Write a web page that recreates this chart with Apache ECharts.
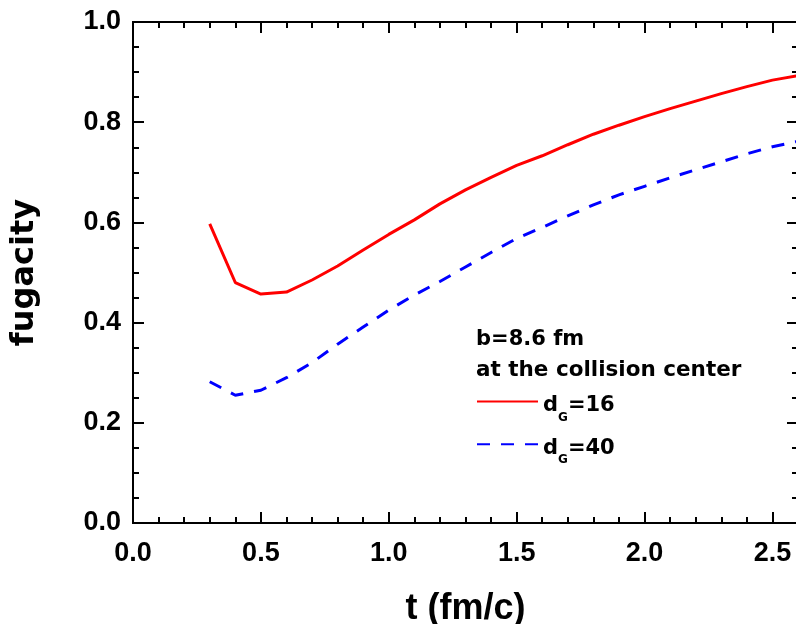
<!DOCTYPE html>
<html><head><meta charset="utf-8">
<script src="https://cdn.jsdelivr.net/npm/echarts@6/dist/echarts.min.js"></script>
<style>html,body{margin:0;padding:0;background:#fff}#c{width:796px;height:624px}</style>
</head><body><div id="c"></div>
<script>
// ---- data ----
const tValues = [0.3,0.4,0.5,0.6,0.7,0.8,0.9,1.0,1.1,1.2,1.3,1.4,1.5,1.6,1.7,1.8,1.9,2.0,2.1,2.2,2.3,2.4,2.5,2.6];
const fugacityDG16 = [0.597,0.480,0.457,0.461,0.485,0.513,0.545,0.576,0.605,0.637,0.665,0.690,0.714,0.733,0.755,0.776,0.794,0.811,0.827,0.842,0.857,0.871,0.884,0.893];
const fugacityDG40 = [0.282,0.255,0.265,0.290,0.320,0.357,0.391,0.425,0.455,0.482,0.511,0.540,0.568,0.590,0.613,0.635,0.655,0.672,0.689,0.705,0.721,0.737,0.751,0.762];
const xTickLabels = ['0.0','0.5','1.0','1.5','2.0','2.5'];
const yTickLabels = ['0.0','0.2','0.4','0.6','0.8','1.0'];
const seriesNames = ['dG=16','dG=40'];
const legendLabels = {'dG=16':['d','G','=16'], 'dG=40':['d','G','=40']};
const annotationLines = ['b=8.6 fm','at the collision center'];
const xAxisTitle = 't (fm/c)';
const yAxisTitle = 'fugacity';

const pairs = vals => tValues.map((t,i)=>[t, vals[i]]);
const black = '#000';
const tickFont = {fontFamily:'"Liberation Sans", Arial, sans-serif', fontWeight:'bold', fontSize:27, color:black};
const xTitleFont = {fontFamily:'"Liberation Sans", Arial, sans-serif', fontWeight:'bold', fontSize:36, color:black};
const yTitleFont = {fontFamily:'"DejaVu Sans", sans-serif', fontWeight:'bold', fontSize:32, color:black};
const lineSty = {color:black, width:2};

function xLabel(v){
  const i = xTickLabels.indexOf(v.toFixed(1));
  return (Math.abs(v*2-Math.round(v*2))<1e-6 && i>=0) ? xTickLabels[i] : '';
}
function yLabel(v){
  const i = yTickLabels.indexOf(v.toFixed(1));
  return i>=0 ? yTickLabels[i] : '';
}
const baseX = {type:'value', min:0, max:2.6, splitLine:{show:false},
  axisLine:{show:true, onZero:false, lineStyle:lineSty}};
const chart = echarts.init(document.getElementById('c'), null, {renderer:'canvas'});
chart.setOption({
  animation:false,
  backgroundColor:'#fff',
  grid:{left:133, top:22, width:665, height:501, containLabel:false, outerBoundsMode:'none'},
  xAxis:[
    Object.assign({}, baseX, {position:'bottom', interval:0.5,
      axisTick:{show:true, inside:true, length:11, lineStyle:lineSty},
      axisLabel:Object.assign({formatter:xLabel, margin:17}, tickFont),
      name:xAxisTitle, nameLocation:'middle', nameGap:68, nameTextStyle:xTitleFont}),
    Object.assign({}, baseX, {position:'bottom', interval:0.1,
      axisTick:{show:true, inside:true, length:6, lineStyle:lineSty}, axisLabel:{show:false}}),
    Object.assign({}, baseX, {position:'top', interval:0.5,
      axisTick:{show:true, inside:true, length:11, lineStyle:lineSty}, axisLabel:{show:false}}),
    Object.assign({}, baseX, {position:'top', interval:0.1,
      axisTick:{show:true, inside:true, length:6, lineStyle:lineSty}, axisLabel:{show:false}})
  ],
  yAxis:[
    {type:'value', min:0, max:1, interval:0.2, position:'left', splitLine:{show:false},
     axisLine:{show:true, onZero:false, lineStyle:lineSty},
     axisTick:{show:true, inside:true, length:11, lineStyle:lineSty},
     minorTick:{show:true, splitNumber:4, length:6, lineStyle:lineSty},
     axisLabel:Object.assign({formatter:yLabel, margin:12}, tickFont),
     name:yAxisTitle, nameLocation:'middle', nameGap:92, nameTextStyle:yTitleFont},
    {type:'value', min:0, max:1, interval:0.2, position:'right', splitLine:{show:false},
     axisLine:{show:true, onZero:false, lineStyle:lineSty},
     axisTick:{show:true, inside:true, length:11, lineStyle:lineSty},
     minorTick:{show:true, splitNumber:4, length:6, lineStyle:lineSty},
     axisLabel:{show:false}}
  ],
  legend:{
    orient:'vertical', left:471, top:387, itemWidth:61, itemHeight:24, itemGap:11,
    data:seriesNames,
    itemStyle:{opacity:0},
    formatter:n=>{const p=legendLabels[n]; return '{m|'+p[0]+'}{s|'+p[1]+'}{m|'+p[2]+'}';},
    textStyle:{color:black, padding:[8,0,0,0], rich:{
      m:{fontFamily:'"DejaVu Sans", sans-serif', fontWeight:'bold', fontSize:21, lineHeight:36, color:black},
      s:{fontFamily:'"DejaVu Sans", sans-serif', fontWeight:'bold', fontSize:12, lineHeight:14, verticalAlign:'bottom', color:black}
    }}
  },
  graphic:[
    {type:'text', left:476, top:329, style:{text:annotationLines[0], font:'bold 21px "DejaVu Sans"', fill:black}},
    {type:'text', left:476, top:359, style:{text:annotationLines[1], font:'bold 21.5px "DejaVu Sans"', fill:black}}
  ],
  series:[
    {name:seriesNames[0], type:'line', xAxisIndex:0, yAxisIndex:0, data:pairs(fugacityDG16),
     symbol:'none', showSymbol:false, lineStyle:{color:'#ff0000', width:3, type:'solid'}, itemStyle:{color:'#ff0000'}},
    {name:seriesNames[1], type:'line', xAxisIndex:0, yAxisIndex:0, data:pairs(fugacityDG40),
     symbol:'none', showSymbol:false, lineStyle:{color:'#0000ff', width:3, type:[13,11]}, itemStyle:{color:'#0000ff'}}
  ]
});
</script></body></html>
